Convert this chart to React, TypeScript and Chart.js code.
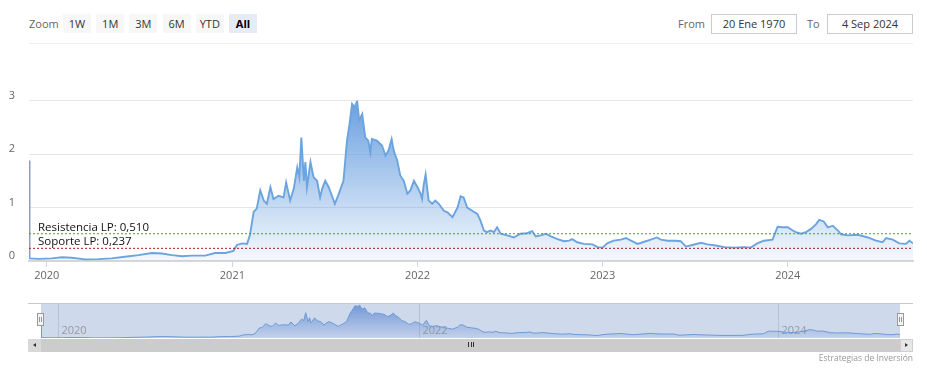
import React, { useEffect, useRef } from 'react';
import { Chart, registerables } from 'chart.js';

Chart.register(...registerables);

const dates = [
  '2019-11-27','2019-11-28','2019-12-16','2020-01-11','2020-01-31','2020-02-19','2020-03-17','2020-04-12','2020-05-08','2020-06-03',
  '2020-06-30','2020-07-26','2020-08-15','2020-09-04','2020-09-24','2020-10-13','2020-11-08','2020-11-28','2020-12-18','2021-01-03',
  '2021-01-10','2021-01-20','2021-01-30','2021-02-05','2021-02-12','2021-02-18','2021-02-25','2021-03-04','2021-03-10','2021-03-17',
  '2021-03-23','2021-04-02','2021-04-12','2021-04-17','2021-04-25','2021-05-02','2021-05-09','2021-05-13','2021-05-17','2021-05-22',
  '2021-05-25','2021-05-28','2021-06-04','2021-06-10','2021-06-17','2021-06-23','2021-06-27','2021-07-03','2021-07-10','2021-07-22',
  '2021-07-30','2021-08-08','2021-08-15','2021-08-20','2021-08-25','2021-08-30','2021-09-04','2021-09-08','2021-09-14','2021-09-20',
  '2021-09-26','2021-09-30','2021-10-03','2021-10-13','2021-10-23','2021-10-30','2021-11-05','2021-11-11','2021-11-15','2021-11-22',
  '2021-11-28','2021-12-05','2021-12-12','2021-12-18','2021-12-25','2022-01-01','2022-01-07','2022-01-10','2022-01-13','2022-01-17',
  '2022-01-23','2022-01-30','2022-02-05','2022-02-12','2022-02-22','2022-03-01','2022-03-11','2022-03-21','2022-03-27','2022-04-02',
  '2022-04-09','2022-04-19','2022-04-29','2022-05-05','2022-05-12','2022-05-18','2022-05-25','2022-06-01','2022-06-07','2022-06-14',
  '2022-06-27','2022-07-10','2022-07-23','2022-08-05','2022-08-15','2022-08-22','2022-09-01','2022-09-11','2022-09-21','2022-10-04',
  '2022-10-17','2022-10-27','2022-11-02','2022-11-12','2022-11-25','2022-12-12','2022-12-22','2023-01-01','2023-01-10','2023-01-23',
  '2023-02-06','2023-02-16','2023-02-26','2023-03-11','2023-03-24','2023-04-06','2023-04-18','2023-04-26','2023-05-09','2023-05-25',
  '2023-06-04','2023-06-14','2023-06-27','2023-07-14','2023-07-27','2023-08-12','2023-08-29','2023-09-17','2023-10-07','2023-10-20',
  '2023-11-02','2023-11-15','2023-12-02','2023-12-12','2023-12-22','2024-01-01','2024-01-11','2024-01-17','2024-01-27','2024-02-06',
  '2024-02-16','2024-02-26','2024-03-03','2024-03-12','2024-03-20','2024-03-30','2024-04-09','2024-04-15','2024-04-28','2024-05-18',
  '2024-06-07','2024-06-23','2024-07-06','2024-07-13','2024-07-26','2024-08-08','2024-08-21','2024-08-28','2024-09-04',
];

const prices = [
  1.88, 0.05, 0.04, 0.05, 0.07, 0.06, 0.03, 0.035, 0.05, 0.08,
  0.11, 0.15, 0.14, 0.11, 0.09, 0.10, 0.10, 0.15, 0.15, 0.19,
  0.30, 0.33, 0.32, 0.50, 0.92, 0.98, 1.32, 1.13, 1.07, 1.38,
  1.16, 1.22, 1.19, 1.47, 1.13, 1.35, 1.75, 1.57, 2.31, 1.50,
  1.85, 1.38, 1.85, 1.57, 1.50, 1.19, 1.35, 1.50, 1.38, 1.07,
  1.26, 1.50, 2.25, 2.56, 2.94, 2.88, 2.99, 2.63, 2.75, 2.31,
  2.25, 2.03, 2.28, 2.25, 2.16, 1.97, 2.07, 2.28, 2.07, 1.88,
  1.60, 1.50, 1.26, 1.32, 1.50, 1.38, 1.26, 1.16, 1.41, 1.62,
  1.13, 1.07, 1.13, 1.07, 0.94, 0.91, 0.82, 1.00, 1.21, 1.19,
  1.00, 0.94, 0.88, 0.76, 0.57, 0.54, 0.57, 0.54, 0.63, 0.51,
  0.48, 0.44, 0.51, 0.52, 0.56, 0.46, 0.48, 0.51, 0.46, 0.41,
  0.37, 0.38, 0.41, 0.35, 0.32, 0.31, 0.26, 0.25, 0.33, 0.38,
  0.40, 0.43, 0.38, 0.32, 0.36, 0.40, 0.44, 0.40, 0.38, 0.38,
  0.37, 0.27, 0.30, 0.34, 0.31, 0.29, 0.26, 0.25, 0.26, 0.25,
  0.33, 0.38, 0.40, 0.64, 0.63, 0.63, 0.57, 0.54, 0.51, 0.54,
  0.60, 0.69, 0.77, 0.74, 0.63, 0.66, 0.57, 0.50, 0.48, 0.49,
  0.44, 0.38, 0.35, 0.43, 0.40, 0.33, 0.32, 0.38, 0.33,
];

const yearTicks = ['2020', '2021', '2022', '2023', '2024'];
const navYearTicks = ['2020', '2022', '2024'];
const yTicks = [0, 1, 2, 3];
const levelNames = ['Resistencia LP', 'Soporte LP'];
const levelValues = [0.51, 0.237];
const rangeButtons = ['1W', '1M', '3M', '6M', 'YTD', 'All'];
const selectedRange = 'All';
const fromDate = '20 Ene 1970';
const toDate = '4 Sep 2024';
const creditText = 'Estrategias de Inversión';

const FONT = '"Open Sans", "Noto Sans", sans-serif';

function dayOf(s: string): number {
  const [y, m, d] = s.split('-').map(Number);
  return (Date.UTC(y, (m || 1) - 1, d || 1) - Date.UTC(2020, 0, 1)) / 86400000;
}

function fmt(v: number) {
  return v.toFixed(3).replace('.', ',');
}

export default function App() {
  const mainRef = useRef<HTMLCanvasElement | null>(null);
  const navRef = useRef<HTMLCanvasElement | null>(null);

  useEffect(() => {
    const pts = dates.map((d, i) => ({ x: dayOf(d), y: prices[i] }));
    const xMin = pts[0].x;
    const xMax = pts[pts.length - 1].x;
    const levelColors = ['#4f9a3c', '#a52020'];

    const labelPlugin = {
      id: 'levelLabels',
      afterDatasetsDraw(chart: any) {
        const { ctx, scales } = chart;
        ctx.save();
        ctx.font = `11.5px ${FONT}`;
        ctx.fillStyle = '#111';
        ctx.textAlign = 'left';
        ctx.textBaseline = 'alphabetic';
        levelNames.forEach((n, i) => {
          const y = scales.y.getPixelForValue(levelValues[i]);
          ctx.fillText(`${n}: ${fmt(levelValues[i])}`, scales.x.left + 9, y - 3);
        });
        ctx.restore();
      },
    };

    const levelDatasets = levelValues.map((v, i) => ({
      data: [{ x: xMin, y: v }, { x: xMax, y: v }],
      borderColor: levelColors[i],
      borderWidth: 1,
      borderDash: [2, 2],
      pointRadius: 0,
      fill: false,
      order: 1,
    }));

    const main = new Chart(mainRef.current as HTMLCanvasElement, {
      type: 'line',
      data: {
        datasets: [
          {
            data: pts,
            borderColor: '#6ba4de',
            borderWidth: 1.9,
            pointRadius: 0,
            tension: 0,
            fill: 'origin',
            order: 2,
            backgroundColor: (c: any) => {
              const a = c.chart.chartArea;
              if (!a) return 'rgba(90,150,220,0.3)';
              const g = c.chart.ctx.createLinearGradient(0, a.top, 0, a.bottom);
              g.addColorStop(0, 'rgba(90,150,220,0.9)');
              g.addColorStop(1, 'rgba(90,150,220,0.06)');
              return g;
            },
          },
          ...levelDatasets,
        ] as any,
      },
      options: {
        animation: false,
        responsive: false,
        events: [],
        layout: { padding: { top: 20, right: 14, left: 0, bottom: 0 } },
        plugins: { legend: { display: false }, tooltip: { enabled: false } },
        scales: {
          x: {
            type: 'linear',
            min: xMin,
            max: xMax,
            afterBuildTicks: (s: any) => {
              s.ticks = yearTicks.map((y) => ({ value: dayOf(y + '-01-01') }));
            },
            afterFit: (s: any) => {
              s.height = 29;
            },
            ticks: {
              autoSkip: false,
              maxRotation: 0,
              padding: 2,
              color: '#666',
              font: { size: 11, family: FONT },
              callback: (_v: any, i: number) => yearTicks[i],
            },
            grid: { drawOnChartArea: false, drawTicks: true, tickLength: 6, color: '#ccd6eb' },
            border: { display: true, color: '#d8d8d8', width: 2 },
          },
          y: {
            min: 0,
            max: 3,
            afterBuildTicks: (s: any) => {
              s.ticks = yTicks.map((v) => ({ value: v }));
            },
            afterFit: (s: any) => {
              s.width = 29;
            },
            ticks: {
              padding: 14,
              labelOffset: -5,
              color: '#666',
              font: { size: 11, family: FONT },
              callback: (v: any) => String(v),
            },
            grid: { color: '#e6e6e6', drawTicks: false },
            border: { display: false },
          },
        },
      } as any,
      plugins: [labelPlugin],
    });

    const navPlugin = {
      id: 'navDecor',
      beforeDatasetsDraw(chart: any) {
        const { ctx, chartArea: a, scales } = chart;
        ctx.save();
        ctx.fillStyle = 'rgb(207,217,236)';
        ctx.fillRect(a.left, a.top, a.right - a.left, a.bottom - a.top);
        ctx.strokeStyle = 'rgba(140,150,170,0.35)';
        ctx.lineWidth = 1;
        ctx.font = `11px ${FONT}`;
        ctx.fillStyle = '#999';
        ctx.textBaseline = 'middle';
        ctx.textAlign = 'left';
        navYearTicks.forEach((y) => {
          const x = Math.round(scales.x.getPixelForValue(dayOf(y + '-01-01'))) + 0.5;
          ctx.beginPath();
          ctx.moveTo(x, a.top);
          ctx.lineTo(x, a.bottom);
          ctx.stroke();
          ctx.fillText(y, x + 3, a.bottom - 7);
        });
        ctx.restore();
      },
    };

    const nav = new Chart(navRef.current as HTMLCanvasElement, {
      type: 'line',
      data: {
        datasets: [
          {
            data: pts,
            borderColor: '#6d9bd8',
            borderWidth: 1,
            pointRadius: 0,
            fill: 'origin',
            backgroundColor: (c: any) => {
              const a = c.chart.chartArea;
              if (!a) return 'rgba(90,135,210,0.4)';
              const g = c.chart.ctx.createLinearGradient(0, a.top, 0, a.bottom);
              g.addColorStop(0, 'rgba(90,135,210,0.8)');
              g.addColorStop(1, 'rgba(90,135,210,0.1)');
              return g;
            },
          },
        ] as any,
      },
      options: {
        animation: false,
        responsive: false,
        events: [],
        layout: { padding: 0 },
        plugins: { legend: { display: false }, tooltip: { enabled: false } },
        scales: {
          x: { type: 'linear', display: false, min: xMin, max: xMax },
          y: { display: false, min: 0.02, max: 3.1 },
        },
      } as any,
      plugins: [navPlugin],
    });

    return () => {
      main.destroy();
      nav.destroy();
    };
  }, []);

  const abs = (s: React.CSSProperties): React.CSSProperties => ({ position: 'absolute', ...s });
  const textBase: React.CSSProperties = { fontFamily: FONT, fontSize: 11, lineHeight: '19px' };

  return (
    <div style={{ position: 'fixed', left: 0, top: 0, width: 927, height: 369, background: '#fff', overflow: 'hidden' }}>
      <div style={abs({ ...textBase, left: 29, top: 14, height: 19, color: '#666' })}>Zoom</div>
      {rangeButtons.map((b, i) => (
        <div
          key={b}
          style={abs({
            ...textBase,
            left: 63 + i * 33.2,
            top: 14,
            width: 28,
            height: 19,
            textAlign: 'center',
            background: b === selectedRange ? '#e6ebf5' : '#f7f7f7',
            color: b === selectedRange ? '#000' : '#333',
            fontWeight: b === selectedRange ? 700 : 400,
          })}
        >
          {b}
        </div>
      ))}
      <div style={abs({ ...textBase, left: 678, top: 14, color: '#666' })}>From</div>
      <div
        style={abs({
          ...textBase,
          left: 711,
          top: 14,
          width: 84,
          height: 18,
          lineHeight: '18px',
          border: '1px solid #ccc',
          textAlign: 'center',
          color: '#333',
        })}
      >
        {fromDate}
      </div>
      <div style={abs({ ...textBase, left: 807, top: 14, color: '#666' })}>To</div>
      <div
        style={abs({
          ...textBase,
          left: 827,
          top: 14,
          width: 84,
          height: 18,
          lineHeight: '18px',
          border: '1px solid #ccc',
          textAlign: 'center',
          color: '#333',
        })}
      >
        {toDate}
      </div>
      <div style={abs({ left: 29, top: 43, width: 884, height: 1, background: '#f0f0f0' })} />

      <canvas ref={mainRef} width={927} height={210} style={abs({ left: 0, top: 80, width: 927, height: 210 })} />

      <div style={abs({ left: 28, top: 303, width: 885, height: 1, background: '#c8c8c8' })} />
      <canvas ref={navRef} width={859} height={34} style={abs({ left: 41, top: 304, width: 859, height: 34 })} />

      {[40.5, 900.5].map((cx, i) => (
        <div
          key={i}
          style={abs({
            left: cx - 4,
            top: 313,
            width: 7,
            height: 13,
            background: '#f2f2f2',
            border: '1px solid #999',
            boxSizing: 'border-box',
          })}
        >
          <div style={abs({ left: 1.5, top: 3, width: 1, height: 5, background: '#999' })} />
          <div style={abs({ left: 3.5, top: 3, width: 1, height: 5, background: '#999' })} />
        </div>
      ))}

      <div style={abs({ left: 28, top: 339, width: 885, height: 13, background: '#cccccc' })} />
      <div style={abs({ left: 28, top: 339, width: 13, height: 13, background: '#d9d9d9' })}>
        <div
          style={abs({
            left: 5,
            top: 4,
            width: 0,
            height: 0,
            borderTop: '2.5px solid transparent',
            borderBottom: '2.5px solid transparent',
            borderRight: '3px solid #333',
          })}
        />
      </div>
      <div
        style={abs({
          left: 900,
          top: 339,
          width: 13,
          height: 13,
          background: '#e6e6e6',
          border: '1px solid #cfcfcf',
          boxSizing: 'border-box',
        })}
      >
        <div
          style={abs({
            left: 4,
            top: 3,
            width: 0,
            height: 0,
            borderTop: '2.5px solid transparent',
            borderBottom: '2.5px solid transparent',
            borderLeft: '3px solid #333',
          })}
        />
      </div>
      {[468, 470.5, 473].map((x, i) => (
        <div key={i} style={abs({ left: x, top: 342, width: 1, height: 5, background: '#333' })} />
      ))}

      <div
        style={abs({
          right: 927 - 913,
          top: 352,
          fontFamily: FONT,
          fontSize: 8.5,
          lineHeight: '12px',
          color: '#999',
          whiteSpace: 'nowrap',
        })}
      >
        {creditText}
      </div>
    </div>
  );
}
